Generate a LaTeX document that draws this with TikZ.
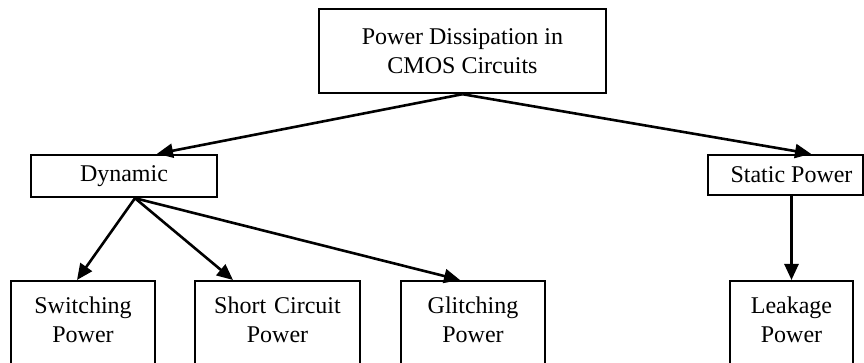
\documentclass[tikz,border=0pt]{standalone}
\usepackage{fontspec}
\setmainfont{Liberation Serif}
\usetikzlibrary{arrows.meta}

\begin{document}
\begin{tikzpicture}[x=0.5pt,y=-0.5pt,
  font=\fontsize{12}{14.5}\selectfont,
  box/.style={draw,line width=1.2pt,inner sep=0pt,align=center},
  leafbox/.style={box,anchor=north,text height=16pt,text depth=50pt},
  arr/.style={line width=1.3pt,-{Triangle[length=8pt,width=7pt]}}]
  % page frame (the bottom boxes run off the page)
  \useasboundingbox (0,0) rectangle (864,363);
  \clip (0,0) rectangle (864,363);
  % top box
  \node[box,minimum width=143.5pt,minimum height=42pt] (root) at (462.5,51) {Power Dissipation in\\CMOS Circuits};
  % middle row
  \node[box,minimum width=93pt,minimum height=21pt] (dyn) at (124,176) {Dynamic};
  \node[box,minimum width=77.5pt,minimum height=20pt] (stat) at (785.5,175) {\hspace*{6pt}Static Power};
  % bottom row
  \node[leafbox,text width=72pt] (sw) at (83,280) {Switching\\Power};
  \node[leafbox,text width=82.5pt] (sc) at (277.5,280) {Short Circuit\\Power};
  \node[leafbox,text width=72pt] (gl) at (473,280) {Glitching\\Power};
  \node[leafbox,text width=61.5pt] (leak) at (791.5,280) {Leakage\\Power};
  % arrows
  \draw[arr] (root.south) -- ([xshift=16.5pt]dyn.north);
  \draw[arr] (root.south) -- ([xshift=12.75pt]stat.north);
  \draw[arr] ([xshift=5.5pt]dyn.south) -- ([xshift=-3pt]sw.north);
  \draw[arr] ([xshift=5.5pt]dyn.south) -- ([xshift=-22.25pt]sc.north);
  \draw[arr] ([xshift=5.5pt]dyn.south) -- ([xshift=-6.5pt]gl.north);
  \draw[arr] (stat.south -| leak.north) -- (leak.north);
\end{tikzpicture}
\end{document}
